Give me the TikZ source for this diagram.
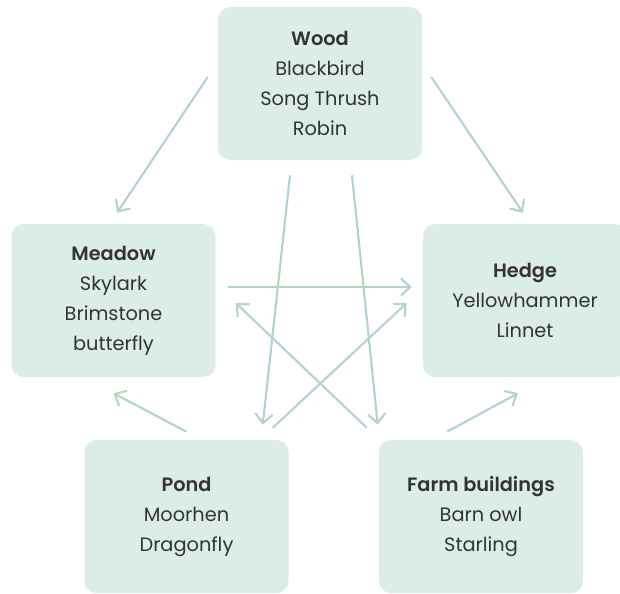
\documentclass[tikz,border=0pt]{standalone}
\usepackage{fontspec}
\setmainfont{Poppins}[BoldFont={Poppins SemiBold}]
\usetikzlibrary{arrows.meta,calc}

\definecolor{habitatfill}{HTML}{DCECE6}
\definecolor{linkgreen}{HTML}{B3D6BF}
\definecolor{labelgray}{HTML}{333333}

\begin{document}
\begin{tikzpicture}[
    x=0.75pt, y=-0.75pt,
    habitat/.style={fill=habitatfill, rounded corners=9pt, align=center, minimum width=153pt, minimum height=114.75pt, inner sep=0pt, text=labelgray, font=\fontsize{14.5}{22.5}\selectfont},
    link/.style={-{Straight Barb[length=7pt,width=13pt]}, draw=linkgreen, line width=1.6pt}
  ]
  \useasboundingbox (0,0) rectangle (620,593);
  % habitats
  \node[habitat] (wood) at (320,83.5) {\textbf{Wood}\\Blackbird\\Song Thrush\\Robin};
  \node[habitat] (meadow) at (113.5,300.5) {\textbf{Meadow}\\Skylark\\Brimstone\\butterfly};
  \node[habitat] (hedge) at (525,300.5) {\textbf{Hedge}\\Yellowhammer\\Linnet};
  \node[habitat] (pond) at (186.5,516.5) {\textbf{Pond}\\Moorhen\\Dragonfly};
  \node[habitat] (farm) at (481,516.5) {\textbf{Farm buildings}\\Barn owl\\Starling};
  % links
  \draw[link] ($(wood.west)+(-10,-6.5)$) -- ($(meadow.north)+(3.5,-11)$);
  \draw[link] ($(wood.east)+(9,-6.5)$) -- ($(hedge.north)+(-2,-11)$);
  \draw[link] ($(wood.south)+(-30,15)$) -- ($(pond.north east)+(-26,-15)$);
  \draw[link] ($(wood.south)+(32,15)$) -- ($(farm.north west)+(-1,-15)$);
  \draw[link] ($(meadow.east)+(12,-13.5)$) -- ($(hedge.west)+(-11,-13.5)$);
  \draw[link] ($(farm.north west)+(-12,-12)$) -- ($(meadow.east)+(20,2.5)$);
  \draw[link] ($(pond.north east)+(-16,-12)$) -- ($(hedge.west)+(-16,2.5)$);
  \draw[link] ($(pond.north)+(0,-8)$) -- ($(meadow.south)+(0,16)$);
  \draw[link] ($(farm.north)+(-34,-8)$) -- ($(hedge.south)+(-7,16)$);
\end{tikzpicture}
\end{document}
